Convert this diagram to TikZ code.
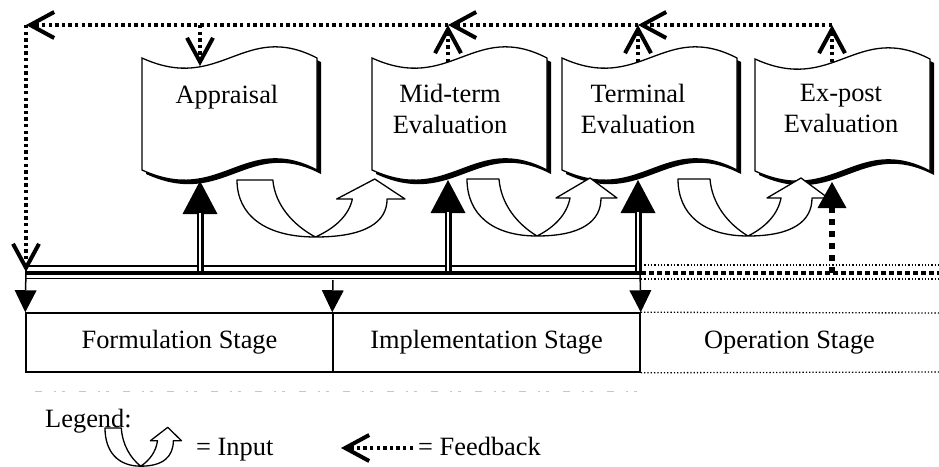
\documentclass[tikz,border=0pt]{standalone}
\usepackage{fontspec}
\setmainfont{Liberation Serif}
\usetikzlibrary{arrows.meta}
\tikzset{
  txt/.style={inner sep=0pt, font=\fontsize{26.4}{31}\selectfont},
  stage/.style={txt, draw, line width=1.5pt, minimum height=59pt, minimum width=307pt},
  fb/.style={line width=3.4pt, dash pattern=on 3.4pt off 3.2pt,
    -{Straight Barb[length=24pt,width=26pt,line width=4pt]}},
  dn/.style={line width=1.5pt, -{Triangle[length=22pt,width=22pt,line width=0pt]}},
  inp/.style={line width=7pt, -{Triangle[length=33pt,width=35pt,line width=0pt]},
    postaction={draw=white, line width=2.6pt, -, shorten >=32pt}},
  inpd/.style={line width=5.5pt, dash pattern=on 6pt off 6pt, -{Triangle[length=26pt,width=29pt,line width=0pt]}},
  tlthin/.style={line width=1.4pt},
  tlthick/.style={line width=4.2pt},
  dotthin/.style={line width=1.3pt, dash pattern=on 1.3pt off 2pt},
  dotthick/.style={line width=4pt, dash pattern=on 5pt off 3pt},
  % wavy document sheet with a drop shadow on its lower right side
  scroll/.pic={
    \begin{scope}[shift={(4,4)}]
      \fill[black] (0,0) .. controls (78.75,36) and (101.5,-38) .. (175,0) -- (175,112)
        .. controls (101.5,74) and (78.75,148) .. (0,112) -- cycle;
    \end{scope}
    \filldraw[fill=white, line width=1.3pt] (0,0) .. controls (78.75,36) and (101.5,-38) .. (175,0) -- (175,112)
        .. controls (101.5,74) and (78.75,148) .. (0,112) -- cycle;
  },
  % curved "input" arrow that dips down and comes back up
  uturn/.pic={
    \filldraw[fill=white, line width=1.3pt, line join=round]
      (0,0) -- (32,0) .. controls (34,25) and (50,45) .. (70,57)
      .. controls (88,48) and (100,35) .. (103,19) -- (89,19) -- (123,-1) -- (150,19) -- (134,19)
      .. controls (134,42) and (115,57) .. (70,57)
      .. controls (25,57) and (0,35) .. (0,0) -- cycle;
  }
}
\begin{document}
\begin{tikzpicture}[x=1pt,y=-1pt]
\useasboundingbox (0,0) rectangle (939,466);

% evaluation sheets
\pic (sA) at (142,58) {scroll};
\pic (sM) at (372,58) {scroll};
\pic (sT) at (562,58) {scroll};
\pic (sE) at (755,59) {scroll};

\node[txt, anchor=base] (apx) at (227,103) {Appraisal};
\node[txt, align=center] (mtx) at (450,108.5) {Mid-term\\Evaluation};
\node[txt, align=center] (tex) at (638,108.5) {Terminal\\Evaluation};
\node[txt, align=center] (epx) at (841,108.5) {Ex-post\\Evaluation};

% inputs passed from one evaluation to the next
\pic (uA) [xscale=1.12] at (237,180) {uturn};
\pic (uM) at (467,179) {uturn};
\pic (uT) at (678,179) {uturn};

% project timeline
\coordinate (tlA) at (26,273);
\coordinate (tlB) at (641,273);
\coordinate (tlC) at (939,273);
\draw[tlthin] ([yshift=-5.5pt]tlA) -- ([yshift=-5.5pt]tlB);
\draw[tlthick] (tlA) -- (tlB);
\draw[tlthin] ([yshift=7pt]tlA) -- ([yshift=7pt]tlB);
\draw[dotthin] ([yshift=-6pt]tlB) -- ([yshift=-6pt]tlC);
\draw[dotthick] (tlB) -- (tlC);
\draw[dotthin] ([yshift=8pt]tlB) -- ([yshift=8pt]tlC);

% stages
\node[stage] (fs) at (179.5,342.5) {Formulation Stage};
\node[stage] (is) at (486.5,342.5) {Implementation Stage};
\node[txt] (os) at (789.5,342.5) {Operation Stage};
\coordinate (osTR) at (939,313);
\coordinate (osBR) at (939,372);
\draw[dotthin] (is.north east) -- (osTR);
\draw[dotthin] (is.south east) -- (osBR);
\draw[gray!45, line width=1pt, dash pattern=on 7pt off 12pt on 2pt off 6pt on 3pt off 14pt] (35,391) -- (640,391);

\coordinate (d0) at (26,267);
\coordinate (d1) at (333,280);
\coordinate (d2) at (640,267);
\draw[dn] (d0) -- (fs.north west);
\draw[dn] (d1) -- (is.north west);
\draw[dn] (d2) -- (is.north east);

% timeline feeding each evaluation
\coordinate (iA0) at (200,271); \coordinate (iA1) at (200,181);
\coordinate (iM0) at (448,271); \coordinate (iM1) at (448,180);
\coordinate (iT0) at (638,271); \coordinate (iT1) at (638,180);
\coordinate (iE0) at (832,273); \coordinate (iE1) at (832,182);
\draw[inp] (iA0) -- (iA1);
\draw[inp] (iM0) -- (iM1);
\draw[inp] (iT0) -- (iT1);
\draw[inpd] (iE0) -- (iE1);

% feedback loop
\coordinate (fL) at (26,25);
\coordinate (fLb) at (26,272);
\coordinate (fA) at (200,25);  \coordinate (fAb) at (200,66);
\coordinate (fM) at (448,25);  \coordinate (fMb) at (448,62);
\coordinate (fT) at (638,25);  \coordinate (fTb) at (638,62);
\coordinate (fE) at (832,25);  \coordinate (fEb) at (832,62);
\draw[fb] (fEb) -- (fE);
\draw[fb] (fE) -- (fT);
\draw[fb] (fTb) -- (fT);
\draw[fb] (fT) -- (fM);
\draw[fb] (fMb) -- (fM);
\draw[fb] (fM) -- (fL);
\draw[fb] (fL) -- (fLb);
\draw[fb] (fA) -- (fAb);

% legend
\node[txt, anchor=base west] (leg) at (45,427) {Legend:};
\pic (uL) [xscale=0.51, yscale=0.67] at (105,428) {uturn};
\node[txt, anchor=base west] (legI) at (196,455) {= Input};
\coordinate (lf0) at (413,448);
\coordinate (lf1) at (341,448);
\draw[fb] (lf0) -- (lf1);
\node[txt, anchor=base west] (legF) at (418,455) {= Feedback};
\end{tikzpicture}
\end{document}
